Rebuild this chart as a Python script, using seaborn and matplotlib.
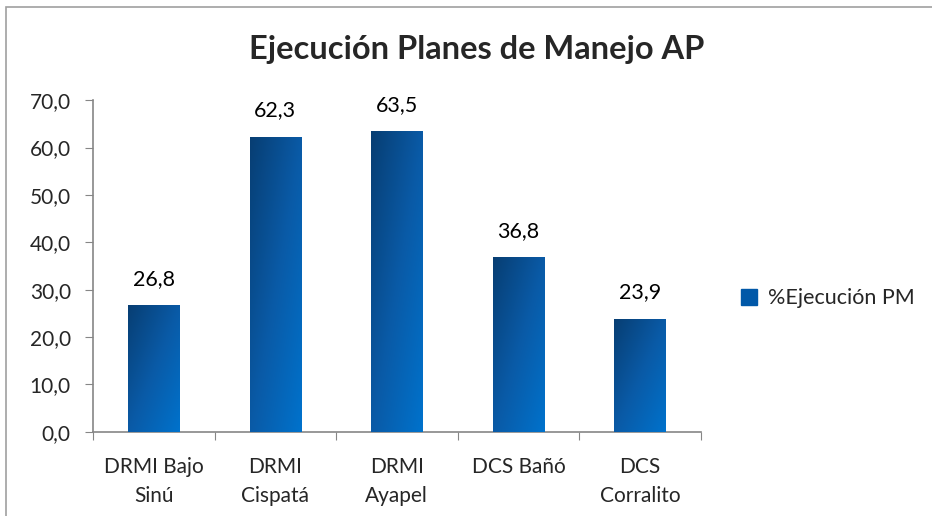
import numpy as np
import pandas as pd
import matplotlib
matplotlib.use('Agg')
import matplotlib.pyplot as plt
from matplotlib.colors import LinearSegmentedColormap
from matplotlib.patches import Rectangle
import seaborn as sns

categorias = ['DRMI Bajo\nSinú', 'DRMI\nCispatá', 'DRMI\nAyapel', 'DCS Bañó', 'DCS\nCorralito']
ejecucion = [26.8, 62.3, 63.5, 36.8, 23.9]
serie = '%Ejecución PM'
titulo = 'Ejecución Planes de Manejo AP'

df = pd.DataFrame({'area': categorias, 'valor': ejecucion})

sns.set_style('white')
plt.rcParams['font.family'] = ['Lato', 'DejaVu Sans']

fig = plt.figure(figsize=(9.32, 5.16), dpi=100)
ax = fig.add_axes([0.0998, 0.163, 0.652, 0.643])

sns.barplot(data=df, x='area', y='valor', color='#0060b0', width=0.42,
            saturation=1, ax=ax, zorder=2, linewidth=0)

# gradiente tipo Excel: oscuro arriba a la izquierda, claro abajo a la derecha
cmap = LinearSegmentedColormap.from_list('grad', ['#073e73', '#0a5aa6', '#0072cc'])
xs = np.linspace(0, 1, 60)
ys = np.linspace(0, 1, 60)
grad = (xs[None, :] + (1 - ys[:, None])) / 2
for p in ax.patches:
    x0, y0 = p.get_x(), p.get_y()
    w, h = p.get_width(), p.get_height()
    im = ax.imshow(grad, cmap=cmap, extent=[x0, x0 + w, y0, y0 + h],
                   aspect='auto', origin='lower', zorder=3, vmin=0, vmax=1)
    im.set_clip_path(p)
    ax.text(x0 + w / 2, h + 3.4, f'{h:.1f}'.replace('.', ','),
            ha='center', va='bottom', fontsize=15.5, color='black')

ax.set_xlim(-0.5, len(categorias) - 0.5)
ax.set_ylim(0, 70)
ax.set_yticks(np.arange(0, 71, 10))
ax.set_yticklabels([f'{v:.1f}'.replace('.', ',') for v in np.arange(0, 71, 10)],
                   fontsize=15)
ax.set_xticks(np.arange(-0.5, len(categorias), 1))
ax.set_xticklabels([])
ax.set_xticks(np.arange(len(categorias)), minor=True)
ax.set_xticklabels(categorias, minor=True, fontsize=15, linespacing=1.6)
ax.tick_params(axis='x', which='minor', length=0, pad=18)
ax.tick_params(axis='x', which='major', length=6, color='#868686', direction='out', bottom=True)
ax.tick_params(axis='y', length=6, color='#868686', direction='out', left=True, pad=10)
ax.set_xlabel('')
ax.set_ylabel('')
for s in ['top', 'right']:
    ax.spines[s].set_visible(False)
for s in ['left', 'bottom']:
    ax.spines[s].set_color('#868686')
    ax.spines[s].set_linewidth(1.2)

fig.text(0.511, 0.905, titulo, ha='center', va='center', fontsize=23.5,
         fontweight='bold')

handle = Rectangle((0, 0), 1, 1, color='#0058a8')
fig.legend([handle], [serie], loc='center left', bbox_to_anchor=(0.774, 0.422),
           frameon=False, fontsize=15.5, handlelength=0.75, handleheight=0.75,
           handletextpad=0.5)

fig.patches.append(Rectangle((0.006, -0.1), 1.2, 1.086, transform=fig.transFigure,
                             fill=False, edgecolor='#a0a0a0', linewidth=1.2))

fig.savefig('out.png', dpi=100)
